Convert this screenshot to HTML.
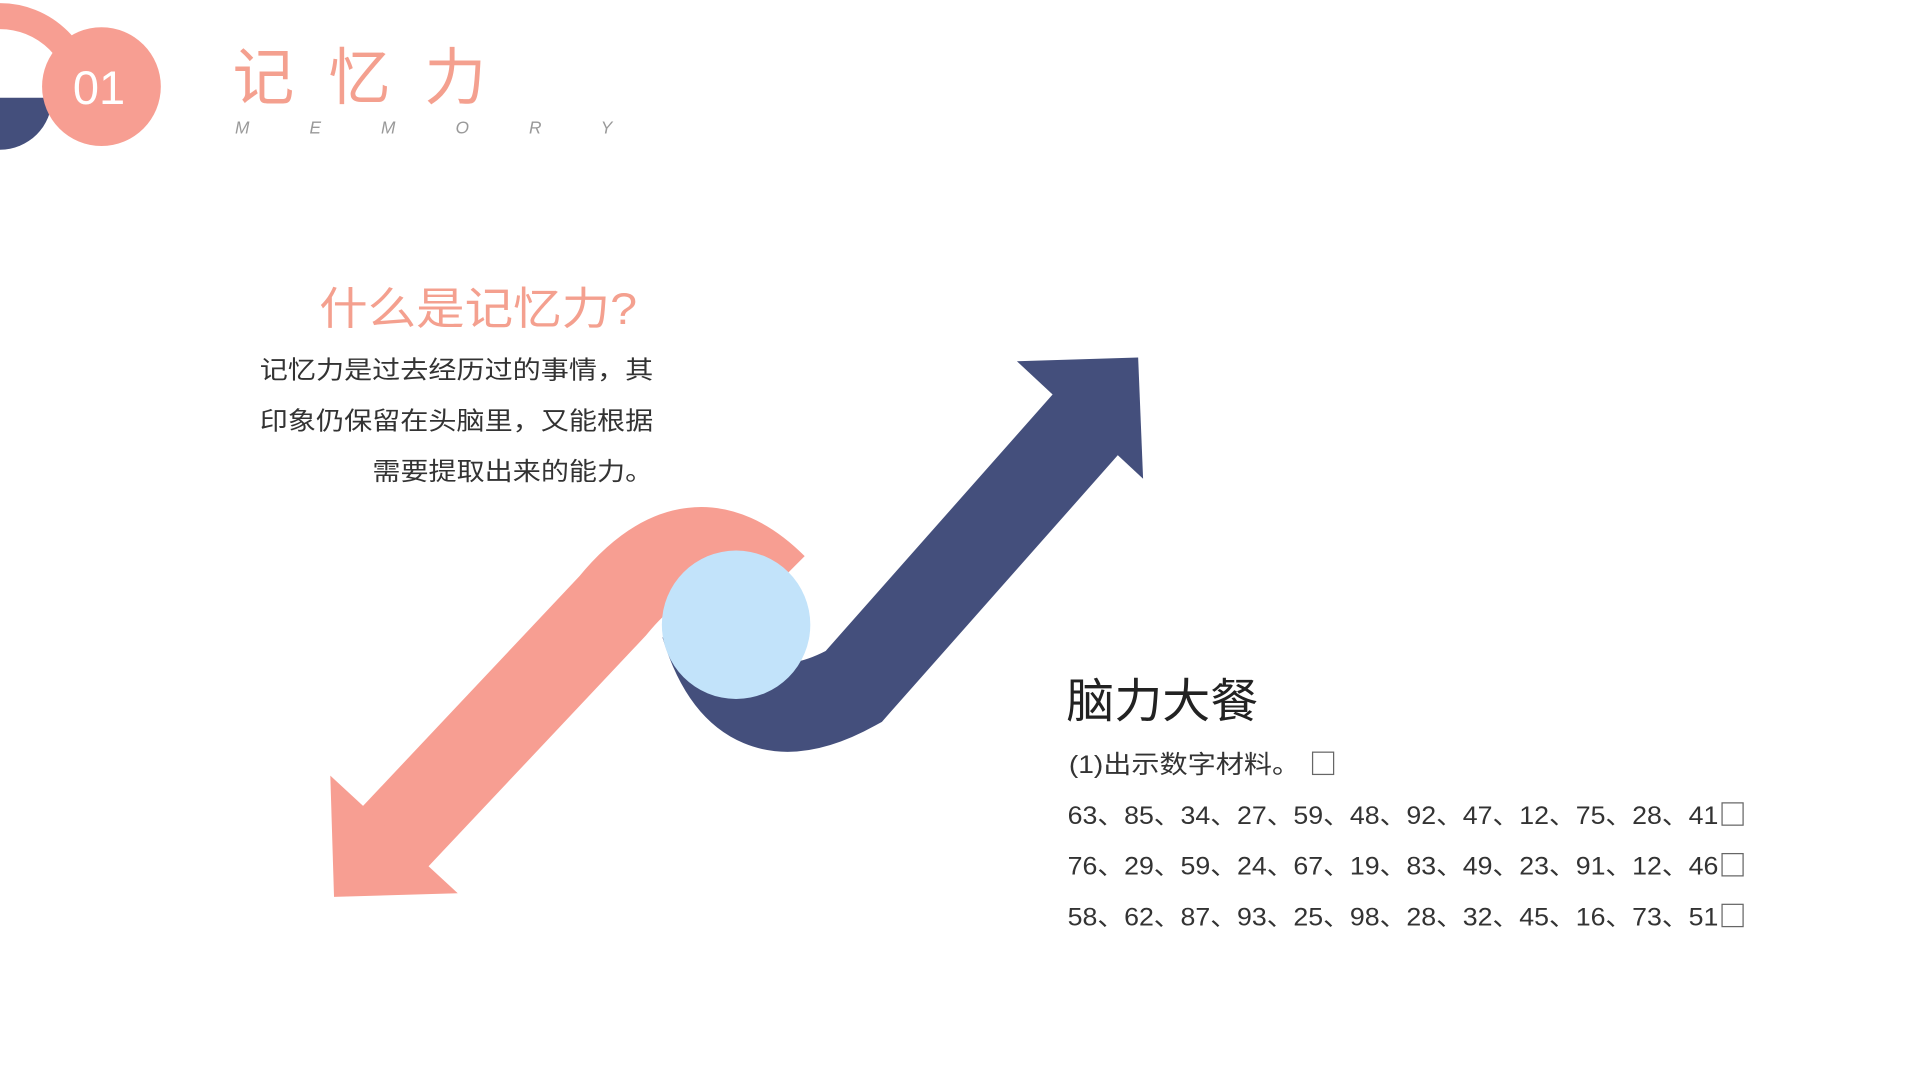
<!DOCTYPE html>
<html><head><meta charset="utf-8"><style>
html,body{margin:0;padding:0;background:#fff;width:1920px;height:1080px;overflow:hidden}
svg{display:block}
text{font-family:"Liberation Sans","Noto Sans CJK SC",sans-serif}
</style></head><body>
<svg width="1920" height="1080" viewBox="0 0 1552 873" xmlns="http://www.w3.org/2000/svg">
<rect width="1552" height="873" fill="#fff"/>
<path d="M-67 80 A67 67 0 0 1 67 80" fill="none" stroke="#f79e92" stroke-width="21"/>
<path d="M0 79 L42 79 A42 42 0 0 1 0 121 Z" fill="#444f7c"/>
<circle cx="82" cy="70" r="48" fill="#f79e92"/>
<text x="80" y="84" font-size="38" fill="#fff" text-anchor="middle" font-family="Liberation Sans">01</text>
<text x="188" y="80" font-size="50" fill="#f4a08f" textLength="205" lengthAdjust="spacing">记忆力</text>
<text x="190" y="108" font-size="14" fill="#999" font-style="italic" textLength="305" lengthAdjust="spacing">MEMORY</text>
<text x="515" y="262" font-size="36" fill="#f4a08f" text-anchor="end" textLength="257" lengthAdjust="spacingAndGlyphs">什么是记忆力?</text>
<text x="528" y="306" font-size="20" fill="#333" text-anchor="end" textLength="318" lengthAdjust="spacingAndGlyphs">记忆力是过去经历过的事情，其</text>
<text x="528" y="347" font-size="20" fill="#333" text-anchor="end" textLength="318" lengthAdjust="spacingAndGlyphs">印象仍保留在头脑里，又能根据</text>
<text x="528" y="388" font-size="20" fill="#333" text-anchor="end" textLength="227" lengthAdjust="spacingAndGlyphs">需要提取出来的能力。</text>
<path d="M300 697 L495 490 Q560 410 625 475" fill="none" stroke="#f79e92" stroke-width="72"/>
<polygon points="267,627 270,725 370,722" fill="#f79e92"/>
<path d="M570 505 Q600 605 690 555 L882 338" fill="none" stroke="#444f7c" stroke-width="72"/>
<polygon points="822,292 920,289 924,387" fill="#444f7c"/>
<circle cx="595" cy="505" r="60" fill="#c2e3fa"/>
<text x="862" y="580" font-size="38" fill="#222" textLength="155" lengthAdjust="spacingAndGlyphs">脑力大餐</text>
<text x="864" y="625" font-size="20" fill="#333" textLength="187" lengthAdjust="spacingAndGlyphs">(1)出示数字材料。</text>
<rect x="1061" y="608" width="17" height="18" fill="none" stroke="#666" stroke-width="1"/>
<text x="863" y="666" font-size="20" fill="#333" textLength="526" lengthAdjust="spacingAndGlyphs">63、85、34、27、59、48、92、47、12、75、28、41</text>
<rect x="1392" y="649" width="17" height="18" fill="none" stroke="#666" stroke-width="1"/>
<text x="863" y="707" font-size="20" fill="#333" textLength="526" lengthAdjust="spacingAndGlyphs">76、29、59、24、67、19、83、49、23、91、12、46</text>
<rect x="1392" y="690" width="17" height="18" fill="none" stroke="#666" stroke-width="1"/>
<text x="863" y="748" font-size="20" fill="#333" textLength="526" lengthAdjust="spacingAndGlyphs">58、62、87、93、25、98、28、32、45、16、73、51</text>
<rect x="1392" y="731" width="17" height="18" fill="none" stroke="#666" stroke-width="1"/>
</svg>
</body></html>
